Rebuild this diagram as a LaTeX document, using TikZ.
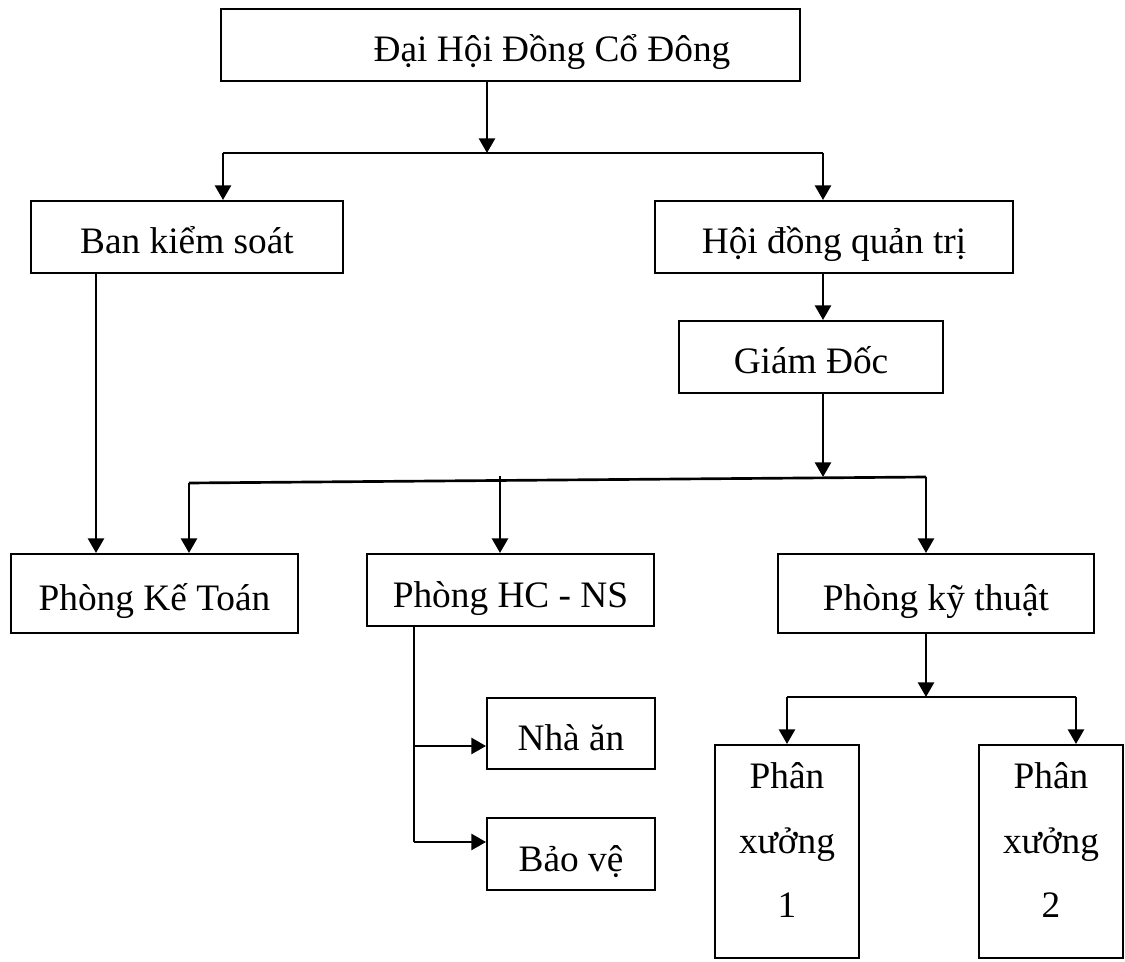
\documentclass[tikz,border=0pt]{standalone}
\usepackage{fontspec}
\setmainfont{Liberation Serif}
\usetikzlibrary{arrows.meta}
\begin{document}
\begin{tikzpicture}[x=0.75pt,y=-0.75pt,
  every node/.style={font=\fontsize{28pt}{34pt}\selectfont},
  box/.style n args={2}{draw, line width=1.5pt, inner sep=0pt,
    minimum width=#1*0.75pt, minimum height=#2*0.75pt,
    text height=26.9pt, text depth=1.4pt},
  lbl/.style={inner sep=0pt, anchor=base},
  link/.style={line width=2pt},
  arr/.style={link, -{Triangle[width=12pt,length=11pt]}}]

\fill[white] (0,0) rectangle (1125,962);
\useasboundingbox (0,0) rectangle (1125,962);

% boxes
\node[box={579}{72}] (dhdcd) at (510.5,45) {};
\node[lbl] (title) at (552,62) {Đại Hội Đồng Cổ Đông};
\node[box={312}{72}] (bks) at (187,237) {Ban kiểm soát};
\node[box={358}{72}] (hdqt) at (834,237) {Hội đồng quản trị};
\node[box={264}{72}] (gd) at (811,357) {Giám Đốc};
\node[box={287}{79}] (pkt) at (154.5,593.5) {Phòng Kế Toán};
\node[box={287}{72}] (phcns) at (510.5,590) {Phòng HC - NS};
\node[box={316}{79}] (pkth) at (936,593.5) {Phòng kỹ thuật};
\node[box={168}{71}] (nha) at (571,733.5) {Nhà ăn};
\node[box={168}{72}] (bv) at (571,854) {Bảo vệ};
\node[box={144}{213}] (px1) at (787,851.5) {};
\node[box={144}{213}] (px2) at (1051,851.5) {};
\node[lbl] (px1a) at (787,788) {Phân};
\node[lbl] (px1b) at (787,853) {xưởng};
\node[lbl] (px1c) at (787,917) {1};
\node[lbl] (px2a) at (1051,788) {Phân};
\node[lbl] (px2b) at (1051,853) {xưởng};
\node[lbl] (px2c) at (1051,917) {2};

% junction points
\coordinate (j1) at (487,153);
\coordinate (c1) at (223,153);
\coordinate (c2) at (823,153);
\coordinate (j2) at (823,477);
\coordinate (d1) at (189,483);
\coordinate (d2) at (500,476);
\coordinate (d3) at (926,477);
\coordinate (b1) at (96,300);
\coordinate (h1) at (414,746);
\coordinate (h2) at (414,842);
\coordinate (k0) at (926,697);
\coordinate (k1) at (787,697);
\coordinate (k2) at (1076,697);

% top level
\draw[arr] (j1 |- dhdcd.south) -- (j1);
\draw[link] (c1) -- (c2);
\draw[arr] (c1) -- (c1 |- bks.north);
\draw[arr] (c2) -- (c2 |- hdqt.north);
\draw[arr] (c2 |- hdqt.south) -- (c2 |- gd.north);
\draw[arr] (j2 |- gd.south) -- (j2);

% departments
\draw[link] (d1) -- (d3);
\draw[arr] (d1) -- (d1 |- pkt.north);
\draw[arr] (d2) -- (d2 |- phcns.north);
\draw[arr] (d3) -- (d3 |- pkth.north);
\draw[arr] (b1 |- bks.south) -- (b1 |- pkt.north);

% under Phòng HC - NS
\draw[link] (h1 |- phcns.south) -- (h2);
\draw[arr] (h1) -- (h1 -| nha.west);
\draw[arr] (h2) -- (h2 -| bv.west);

% under Phòng kỹ thuật
\draw[arr] (k0 |- pkth.south) -- (k0);
\draw[link] (k1) -- (k2);
\draw[arr] (k1) -- (k1 |- px1.north);
\draw[arr] (k2) -- (k2 |- px2.north);
\end{tikzpicture}
\end{document}
